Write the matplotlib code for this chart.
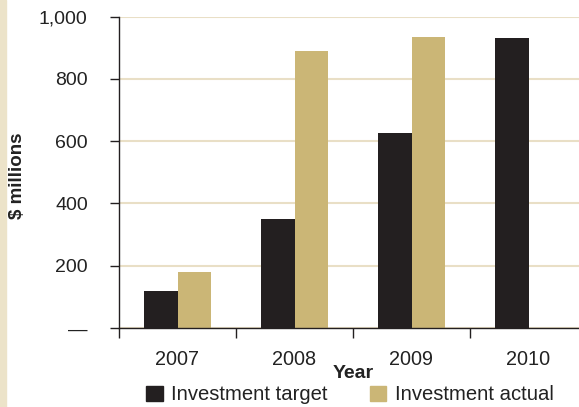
import matplotlib.pyplot as plt
import matplotlib.patches as mpatches
import numpy as np

years = ["2007", "2008", "2009", "2010"]
target = [120, 350, 625, 930]
actual = [180, 890, 935, 0]
yticks = [0, 200, 400, 600, 800, 1000]
ytick_labels = ["\u2014", "200", "400", "600", "800", "1,000"]

dark = "#231f20"
tan = "#cbb676"
grid = "#e9dfc6"

plt.rcParams["font.family"] = ["Liberation Sans", "DejaVu Sans"]

fig = plt.figure(figsize=(5.79, 4.07), dpi=100)
# beige strip down the left edge
fig.patches.append(mpatches.Rectangle((0, 0), 6 / 579, 1, transform=fig.transFigure,
                                      color="#ece3c9", zorder=0))

ax = fig.add_axes([119 / 579, 79 / 407, 468 / 579, 311.5 / 407])
x = np.arange(len(years))
w = 0.29
ax.bar(x - w / 2, target, w, color=dark, zorder=3, label="Investment target")
ax.bar(x + w / 2, actual, w, color=tan, zorder=3, label="Investment actual")

ax.set_xlim(-0.5, 3.5)
ax.set_ylim(0, 1000)

for s in ["top", "right"]:
    ax.spines[s].set_visible(False)
for s in ["left", "bottom"]:
    ax.spines[s].set_color(dark)
    ax.spines[s].set_linewidth(1.0)
    ax.spines[s].set_zorder(4)

ax.set_yticks(yticks)
ax.set_yticklabels(ytick_labels, fontsize=14, color="#222222")
ax.tick_params(axis="y", direction="out", length=6.5, width=1.0, color=dark, pad=16)
ax.yaxis.grid(True, color=grid, linewidth=1.5, zorder=1)

# boundary ticks between years, labels at centres
ax.set_xticks(np.arange(-0.5, 4.0, 1.0))
ax.set_xticklabels([])
ax.tick_params(axis="x", which="major", direction="out", length=7.5, width=1.0, color=dark)
ax.set_xticks(x, minor=True)
ax.set_xticklabels(years, minor=True, fontsize=14.3, color="#222222")
ax.tick_params(axis="x", which="minor", length=0, pad=16)

fig.text(18 / 579, 1 - 176 / 407, "$ millions", fontsize=13.5, fontweight="bold",
         color="#222222", rotation=90, ha="center", va="center")
fig.text(353 / 579, 1 - 373 / 407, "Year", fontsize=14, fontweight="bold",
         color="#222222", ha="center", va="center")

handles = [mpatches.Patch(color=dark), mpatches.Patch(color=tan)]
fig.legend(handles, ["Investment target", "Investment actual"], loc="center",
           bbox_to_anchor=(350 / 579, 1 - 395 / 407), ncol=2, frameon=False,
           fontsize=14.6, handlelength=0.8, handleheight=0.8, handletextpad=0.42,
           columnspacing=2.1, labelcolor="#222222")

fig.savefig("out.png", dpi=100)
